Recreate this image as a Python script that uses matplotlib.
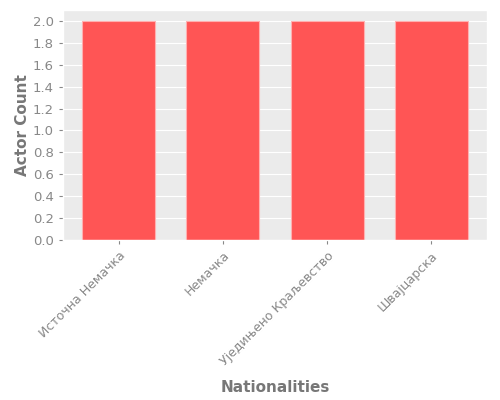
import matplotlib
matplotlib.use("Agg")
import matplotlib.pyplot as plt

nationalities = ["Источна Немачка", "Немачка", "Уједињено Краљевство", "Швајцарска"]
actor_counts = [2, 2, 2, 2]

plt.style.use("ggplot")
plt.rcParams['font.family'] = ['DejaVu Sans']

fig, ax = plt.subplots(figsize=(5, 4), dpi=100)
ax.set_facecolor("#EBEBEB")
ax.bar(range(len(nationalities)), actor_counts, width=0.7,
       color="#FF5555", edgecolor="#FFB0B0", linewidth=0.8)

ax.set_xticks(range(len(nationalities)))
ax.set_xticklabels(nationalities, rotation=45, ha="right", rotation_mode="anchor")
ax.set_yticks([i / 5 for i in range(11)])
ax.tick_params(colors="#888888", labelsize=9, length=3)
ax.tick_params(axis="y", labelsize=9.5)
ax.grid(axis="x", visible=False)
ax.set_xlabel("Nationalities", fontsize=11, fontweight="bold", color="#777777", labelpad=9)
ax.set_ylabel("Actor Count", fontsize=11, fontweight="bold", color="#777777", labelpad=2)

fig.subplots_adjust(left=0.126, right=0.974, top=0.975, bottom=0.4)
fig.savefig("out.png")
